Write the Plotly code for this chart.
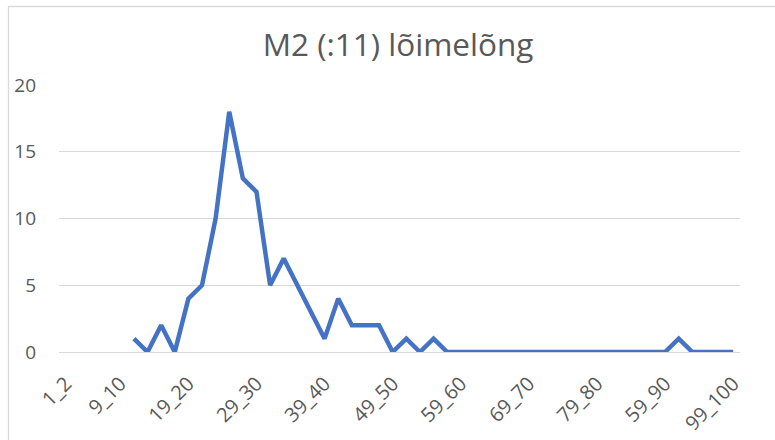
import plotly.graph_objects as go

categories = [f"{2*k+1}_{2*k+2}" for k in range(50)]
tick_labels = ["1_2", "9_10", "19_20", "29_30", "39_40", "49_50",
               "59_60", "69_70", "79_80", "59_90", "99_100"]
tick_cats = ["1_2", "9_10", "19_20", "29_30", "39_40", "49_50",
             "59_60", "69_70", "79_80", "89_90", "99_100"]
values = [None, None, None, None, None,
          1, 0, 2, 0, 4, 5, 10, 18, 13, 12,
          5, 7, 5, 3, 1, 4, 2, 2, 2, 0,
          1, 0, 1, 0, 0, 0, 0, 0, 0, 0,
          0, 0, 0, 0, 0, 0, 0, 0, 0, 0,
          1, 0, 0, 0, 0]

FONT = "Open Sans"
GREY = "#595959"

fig = go.Figure()
fig.add_trace(go.Scatter(
    x=categories, y=values, mode="lines",
    line=dict(color="#4472C4", width=4.5),
    connectgaps=False, hoverinfo="skip",
))

fig.update_layout(
    width=775, height=440,
    margin=dict(l=59, r=35, t=85, b=88),
    paper_bgcolor="white", plot_bgcolor="white",
    showlegend=False,
    title=dict(text="M2 (:11) lõimelõng", x=398 / 775, xanchor="center",
               yref="container", y=1 - 45 / 440, yanchor="middle",
               font=dict(family=FONT, size=31.5, color=GREY)),
    font=dict(family=FONT, color=GREY),
)
fig.update_xaxes(
    type="category", categoryorder="array", categoryarray=categories,
    range=[-0.5, 49.5], automargin=False,
    tickmode="array", tickvals=tick_cats, ticktext=tick_labels,
    tickangle=-45, tickfont=dict(family=FONT, size=20, color=GREY),
    showgrid=False, showline=False, ticks="", zeroline=False,
    ticklabelstandoff=15,
)
fig.update_yaxes(
    range=[0, 20], tickvals=[0, 5, 10, 15, 20], automargin=False,
    tickfont=dict(family=FONT, size=19, color=GREY),
    showgrid=True, gridcolor="#d9d9d9", gridwidth=1.3,
    zeroline=True, zerolinecolor="#d9d9d9", zerolinewidth=1.3,
    showline=False, ticks="", ticklabelstandoff=22,
)
fig.add_shape(type="rect", xref="paper", yref="paper",
              x0=(8.5 - 59) / 681, x1=1.2, y0=-0.5, y1=(352 - 6.5) / 267,
              line=dict(color="#d9d9d9", width=1.3), layer="below")

fig.write_html("out.html", config={"displayModeBar": False},
               post_script="document.body.style.margin='0';")
